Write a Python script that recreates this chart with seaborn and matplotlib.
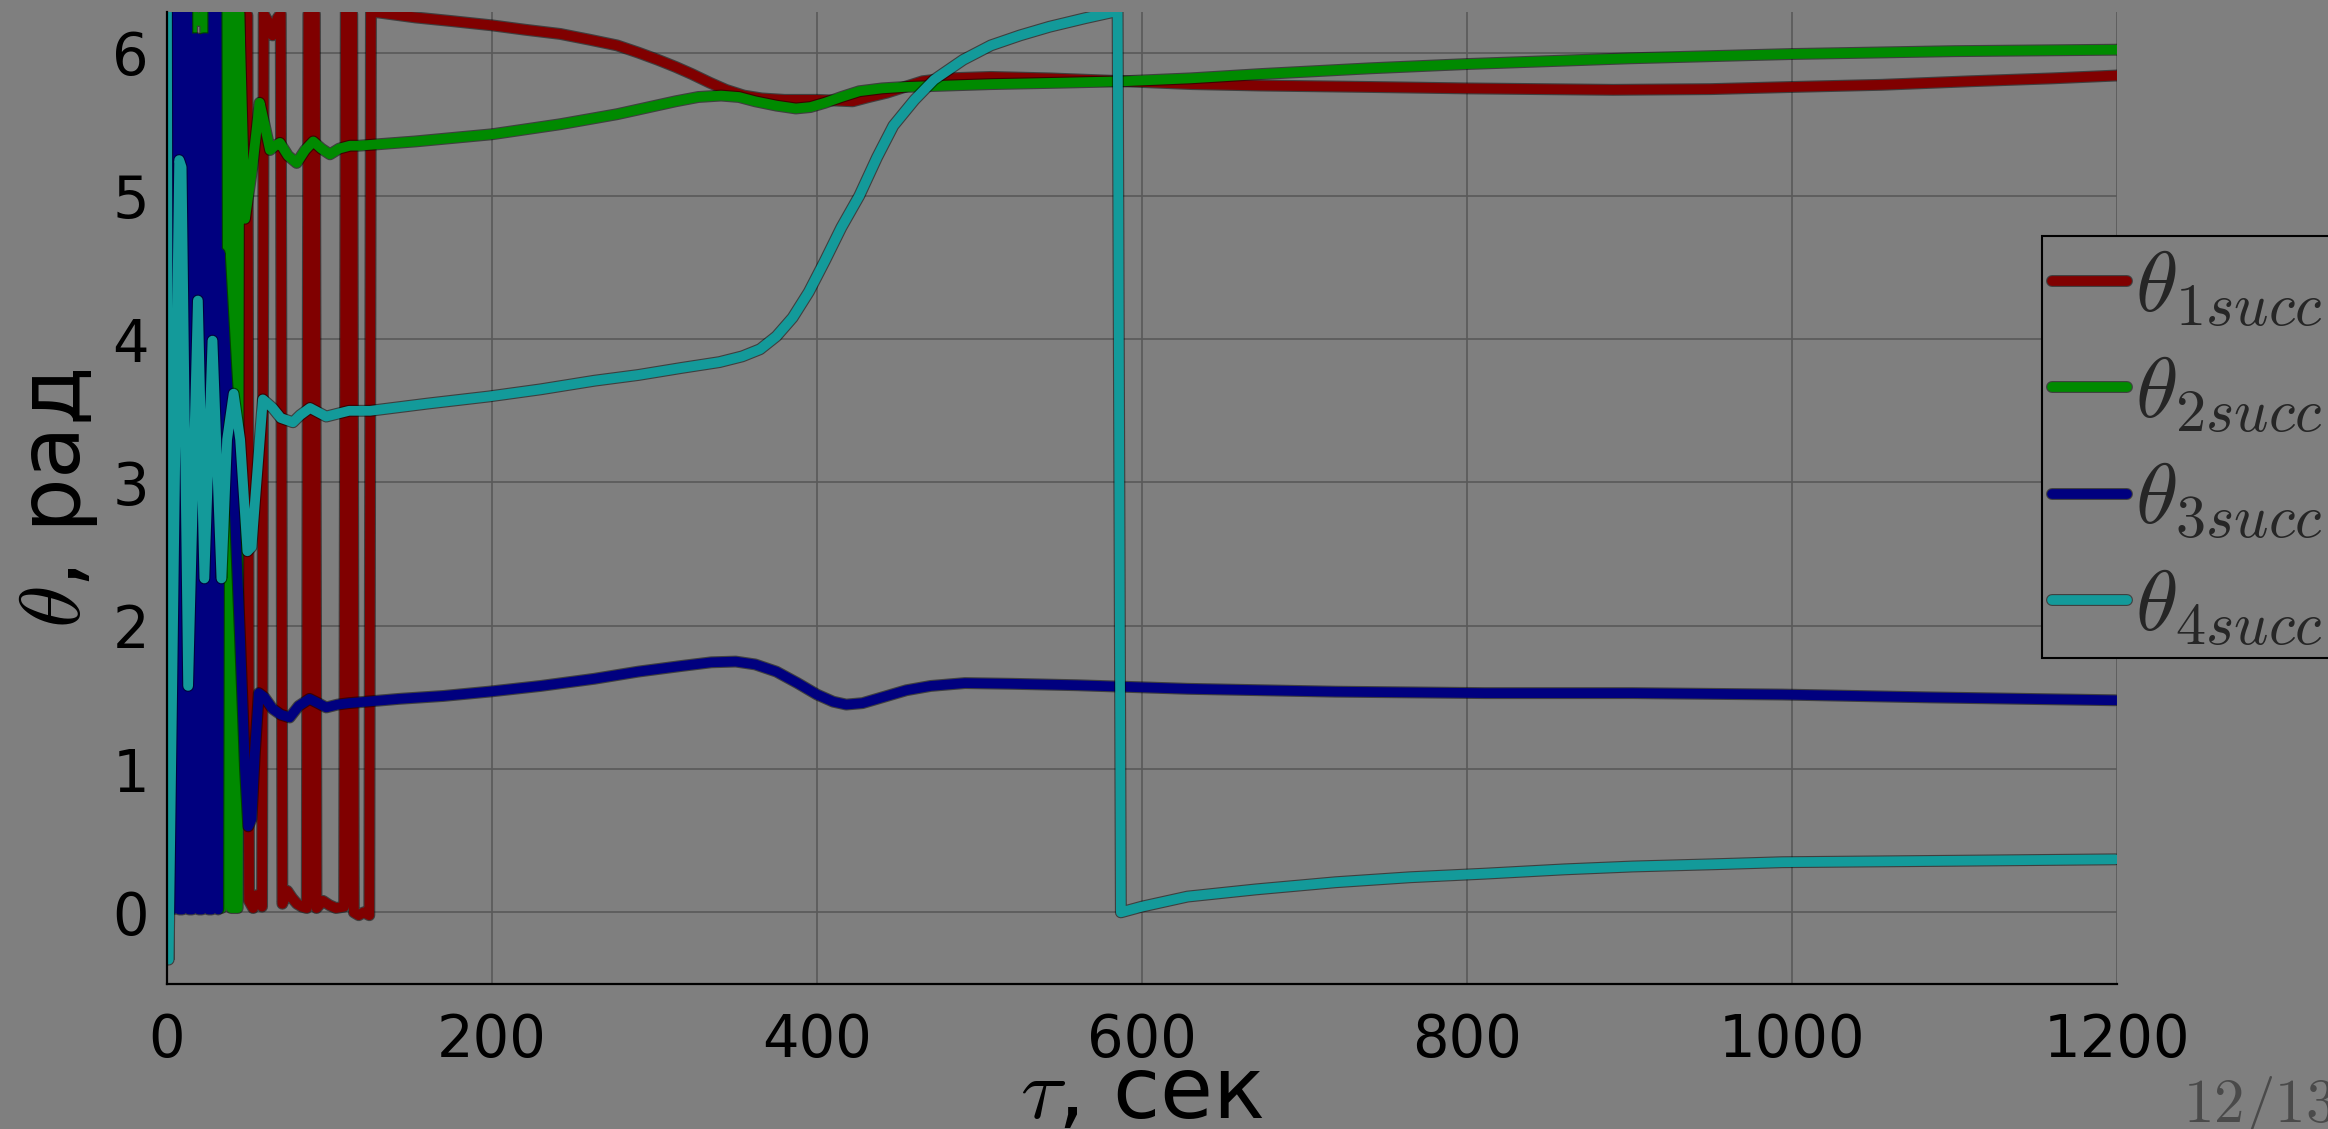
import numpy as np
import pandas as pd
import matplotlib
matplotlib.use("Agg")
import matplotlib.pyplot as plt
import matplotlib.patheffects as pe
import seaborn as sns

# Angles of the four bodies (wrapped to [0, 2*pi]) versus time, seconds
t_theta1 = [44, 49.5, 50.5, 53, 55, 58.5, 59.5, 62, 65, 68, 70, 71, 74, 77, 80, 83,
            86, 87, 89, 91, 92, 96, 100, 104, 109, 110, 112, 114, 115,
            118, 121, 124.5, 125.5, 130, 153, 175, 200, 220, 242, 260, 277, 290, 302,
            313, 323, 334, 344, 355, 366, 380, 400, 412, 422, 432, 443, 454, 465, 480,
            507, 543, 589, 631, 673, 740, 800, 890, 950, 1000, 1055, 1110, 1160, 1200]
theta1 = [6.24, 6.26, 0.08, 0.03, 0.12, 0.04, 6.27, 6.22, 6.12, 6.24, 6.27, 0.06,
          0.15, 0.10, 0.06, 0.04, 0.03, 6.27, 6.30, 6.27, 0.03, 0.08, 0.05, 0.03, 0.04,
          6.28, 6.30, 6.27, 0.00, -0.02, 0.00, -0.02, 6.28, 6.28, 6.245, 6.22, 6.19,
          6.16, 6.13, 6.09, 6.05, 6.00, 5.95, 5.90, 5.85, 5.79, 5.74, 5.70, 5.68, 5.67,
          5.67, 5.665, 5.66, 5.69, 5.72, 5.76, 5.80, 5.82, 5.83, 5.82, 5.80, 5.78, 5.77,
          5.76, 5.75, 5.74, 5.745, 5.76, 5.775, 5.80, 5.82, 5.84]

t_theta2 = [13, 15.5, 19.5, 23.5, 25.5, 29, 33.5, 34.5, 38.5, 39.5, 43.5, 44.5, 48,
            52.5, 57, 60, 63.4, 66.5, 69.5, 74.5, 79.8, 85, 90, 95, 100.3, 106, 112.6,
            118, 153, 200, 242, 277, 295, 313, 327, 341, 352, 362, 375, 387, 396, 405,
            415, 426, 440, 454, 480, 507, 550, 589, 630, 673, 740, 800, 900, 1000, 1100,
            1200]
theta2 = [0.05, 6.28, 6.22, 6.28, 0.05, 0.05, 0.03, 6.28, 6.27, 0.03, 0.03, 6.28, 4.84,
          5.20, 5.65, 5.50, 5.32, 5.35, 5.37, 5.28, 5.23, 5.32, 5.38, 5.33, 5.29, 5.33,
          5.35, 5.35, 5.38, 5.43, 5.50, 5.57, 5.615, 5.66, 5.69, 5.70, 5.69, 5.66, 5.63,
          5.61, 5.62, 5.65, 5.69, 5.73, 5.75, 5.76, 5.77, 5.78, 5.79, 5.80, 5.82, 5.85,
          5.89, 5.92, 5.96, 5.99, 6.01, 6.02]

t_theta3 = [3.5, 4.5, 6.5, 7.5, 9.5, 10.5, 12.5, 13.5, 15.5, 16.5, 18.5, 19.5, 21.5,
            22.5, 24.5, 25.5, 27.5, 28.5, 30.5, 31.5, 32.5, 36.5, 41, 45, 48, 50, 52,
            54, 56.5, 60, 65, 70, 75.5, 81, 87.7, 93, 98, 105, 112, 143, 170, 198, 230,
            263, 290, 317, 335, 350, 362, 375, 388, 400, 410, 418, 428, 440, 455, 470,
            491, 520, 560, 628, 719, 811, 902, 994, 1085, 1199]
theta3 = [0.02, 6.28, 6.28, 0.02, 0.02, 6.28, 6.28, 0.02, 0.02, 6.10, 6.10, 0.02, 0.02,
          6.10, 6.10, 0.02, 0.02, 6.28, 6.28, 0.02, 4.60, 3.80, 3.00, 1.90, 1.00, 0.60,
          0.65, 1.10, 1.53, 1.50, 1.42, 1.38, 1.36, 1.44, 1.49, 1.46, 1.43, 1.45, 1.46,
          1.49, 1.51, 1.54, 1.58, 1.63, 1.68, 1.72, 1.745, 1.75, 1.73, 1.68, 1.60, 1.52,
          1.47, 1.45, 1.46, 1.50, 1.55, 1.58, 1.60, 1.595, 1.585, 1.56, 1.54, 1.53, 1.53,
          1.52, 1.50, 1.48]

t_theta4 = [0, 1, 7.5, 9, 13, 19, 23, 28, 33.5, 37, 41, 45, 49.5, 52, 59, 65, 70, 77.5,
            82, 88, 93, 98, 105, 112, 125, 160, 198, 230, 263, 290, 317, 340, 354, 365,
            375, 385, 395, 405, 415, 426, 437, 447, 460, 472, 490, 507, 525, 543, 565,
            585, 587, 600, 628, 670, 719, 765, 811, 860, 902, 950, 994, 1100, 1199]
theta4 = [6.28, -0.33, 5.25, 5.20, 1.58, 4.27, 2.33, 3.99, 2.33, 3.30, 3.62, 3.30, 2.52,
          2.55, 3.58, 3.52, 3.45, 3.42, 3.47, 3.52, 3.49, 3.46, 3.48, 3.50, 3.50, 3.55,
          3.60, 3.65, 3.71, 3.75, 3.80, 3.84, 3.88, 3.93, 4.02, 4.15, 4.33, 4.55, 4.78,
          5.00, 5.27, 5.49, 5.67, 5.81, 5.95, 6.05, 6.12, 6.18, 6.24, 6.29, 0.00, 0.04,
          0.11, 0.16, 0.21, 0.245, 0.27, 0.30, 0.32, 0.335, 0.35, 0.36, 0.37]

series_names = [r"$\theta_{1succ}$", r"$\theta_{2succ}$",
                r"$\theta_{3succ}$", r"$\theta_{4succ}$"]
series_colors = ["#800000", "#008a00", "#00007f", "#139a9a"]

x_ticks = [0, 200, 400, 600, 800, 1000, 1200]
y_ticks = [0, 1, 2, 3, 4, 5, 6]

bg = "#7f7f7f"
sns.set_style("whitegrid", {"axes.facecolor": bg, "figure.facecolor": bg,
                            "grid.color": "#595959", "axes.edgecolor": "black"})
plt.rcParams["font.family"] = ["DejaVu Sans"]
plt.rcParams["mathtext.fontset"] = "cm"

frames = []
for name, tt, yy in zip(series_names, [t_theta1, t_theta2, t_theta3, t_theta4],
                        [theta1, theta2, theta3, theta4]):
    frames.append(pd.DataFrame({"t": tt, "theta": yy, "series": name}))
df = pd.concat(frames, ignore_index=True)

fig = plt.figure(figsize=(23.28, 11.29), dpi=100, facecolor=bg)
ax = fig.add_axes([167 / 2328, 145 / 1129, 1950 / 2328, 972 / 1129])
ax.set_facecolor(bg)

sns.lineplot(data=df, x="t", y="theta", hue="series", hue_order=series_names,
             palette=dict(zip(series_names, series_colors)), estimator=None,
             sort=False, linewidth=7, legend=False, ax=ax)

for line in ax.get_lines():
    line.set_solid_joinstyle("round")
    line.set_path_effects([pe.Stroke(linewidth=8.6, foreground="black", alpha=0.5),
                           pe.Normal()])

ax.set_xlim(0, 1200)
ax.set_ylim(-0.5, 2 * np.pi)
ax.set_xticks(x_ticks)
ax.set_yticks(y_ticks)
ax.set_xticklabels([str(v) for v in x_ticks])
ax.set_yticklabels([str(v) for v in y_ticks])
ax.tick_params(axis="both", direction="in", length=14, width=1.2, color="black",
               labelsize=41.5, labelcolor="black")
ax.tick_params(axis="x", pad=20)
ax.tick_params(axis="y", pad=13)
ax.grid(True, color="#595959", linewidth=1.2)
ax.set_axisbelow(True)
for side in ["top", "right"]:
    ax.spines[side].set_visible(False)
for side in ["left", "bottom"]:
    ax.spines[side].set_color("black")
    ax.spines[side].set_linewidth(1.6)

ax.set_xlabel(r"$\tau$, сек", fontsize=62, color="black")
ax.xaxis.label.set_va("baseline")
ax.xaxis.set_label_coords(0.5, -0.138)
ax.set_ylabel(r"$\theta$, рад", fontsize=62, color="black")
ax.yaxis.set_label_coords(-0.0344, 0.5)

leg = fig.legend(ax.get_lines(), series_names, loc="upper left",
                 bbox_to_anchor=(2042 / 2328, 1 - 236 / 1129), fontsize=62,
                 frameon=True, fancybox=False, edgecolor="black", facecolor=bg,
                 framealpha=1, handlelength=0.87, handletextpad=0.09,
                 borderpad=0.12, labelspacing=0.27, borderaxespad=0)
leg.get_frame().set_linewidth(1.5)

fig.text(2183 / 2328, 1 - 1122 / 1129, r"$\mathrm{12/13}$", fontsize=44,
         color="#4a4a4a", ha="left", va="baseline")

fig.savefig("out.png", dpi=100, facecolor=bg)
